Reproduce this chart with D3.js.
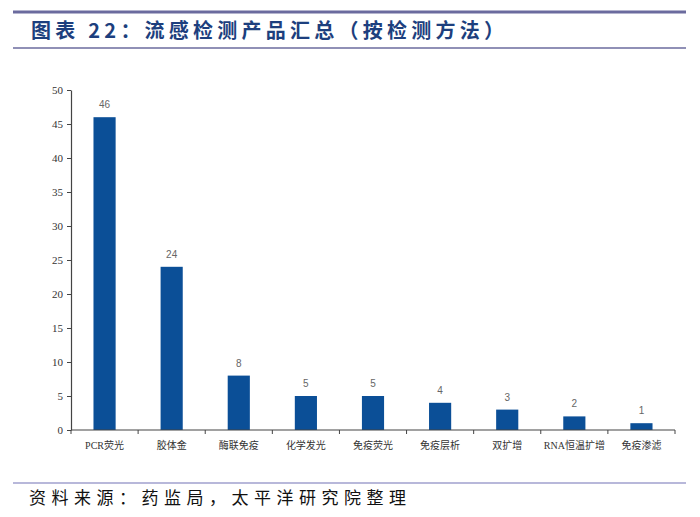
<!DOCTYPE html>
<html><head><meta charset="utf-8">
<script src="https://cdn.jsdelivr.net/npm/d3@7"></script>
<style>body{margin:0;background:#fff}</style>
</head><body>
<script>
const categories = ["PCR荧光","胶体金","酶联免疫","化学发光","免疫荧光","免疫层析","双扩增","RNA恒温扩增","免疫渗滤"];
const values = [46,24,8,5,5,4,3,2,1];
const yTicks = [0,5,10,15,20,25,30,35,40,45,50];
const title = "图表 22：流感检测产品汇总（按检测方法）";
const source = "资料来源：药监局，太平洋研究院整理";

const W=700,H=517;
const svg=d3.select("body").append("svg").attr("width",W).attr("height",H);
const lineColor="#6b6b9e";
svg.append("line").attr("x1",13).attr("x2",686).attr("y1",12).attr("y2",12).attr("stroke",lineColor).attr("stroke-width",3);
svg.append("line").attr("x1",13).attr("x2",686).attr("y1",48).attr("y2",48).attr("stroke",lineColor).attr("stroke-width",1.5);
svg.append("text").attr("x",31).attr("y",38).text(title)
  .attr("textLength",473).attr("lengthAdjust","spacing")
  .attr("font-family","'Noto Sans CJK SC'").attr("font-size",20).attr("font-weight","bold").attr("fill","#1d3f7e");
svg.append("line").attr("x1",13).attr("x2",686).attr("y1",483).attr("y2",483).attr("stroke","#7373b5").attr("stroke-width",1.2);
svg.append("text").attr("x",29).attr("y",504).text(source)
  .attr("textLength",377).attr("lengthAdjust","spacing")
  .attr("font-family","'Noto Sans CJK SC'").attr("font-size",17).attr("fill","#111");

const x=d3.scaleBand().domain(categories).range([71,675]).paddingInner(0.67).paddingOuter(0.335);
const y=d3.scaleLinear().domain([0,50]).range([430,90]);

svg.selectAll("rect.bar").data(values).join("rect").attr("class","bar")
  .attr("x",(d,i)=>x(categories[i])).attr("width",x.bandwidth())
  .attr("y",d=>y(d)).attr("height",d=>y(0)-y(d)).attr("fill","#0b4f97");
svg.selectAll("text.lbl").data(values).join("text").attr("class","lbl")
  .attr("x",(d,i)=>x(categories[i])+x.bandwidth()/2).attr("y",d=>y(d)-9)
  .attr("text-anchor","middle").attr("font-family","'Liberation Sans'").attr("font-size",10).attr("fill","#666").text(d=>d);

const ya=svg.append("g").attr("transform","translate(71,0)").call(d3.axisLeft(y).tickValues(yTicks).tickSize(4).tickSizeOuter(0));
ya.attr("font-family","'Liberation Serif'");
ya.select(".domain").attr("stroke","#444").attr("stroke-width",1.2);
ya.selectAll(".tick line").attr("stroke","#444");
ya.selectAll(".tick text").attr("font-family","'Liberation Serif'").attr("font-size",11).attr("fill","#333").attr("x",-8);

const xa=svg.append("g").attr("transform","translate(0,430)");
xa.append("line").attr("x1",71).attr("x2",675).attr("stroke","#444").attr("stroke-width",1.2);
const bounds=categories.map(c=>x(c)-x.step()*x.paddingInner()/2).concat([675]);
xa.selectAll("line.t").data(bounds).join("line").attr("class","t")
  .attr("x1",d=>d).attr("x2",d=>d).attr("y1",0).attr("y2",4).attr("stroke","#444");
xa.selectAll("text").data(categories).join("text")
  .attr("x",d=>x(d)+x.bandwidth()/2).attr("y",19).attr("text-anchor","middle")
  .attr("font-family","'Liberation Serif','Noto Sans CJK SC'").attr("font-size",10).attr("fill","#333").text(d=>d);
</script>
</body></html>
